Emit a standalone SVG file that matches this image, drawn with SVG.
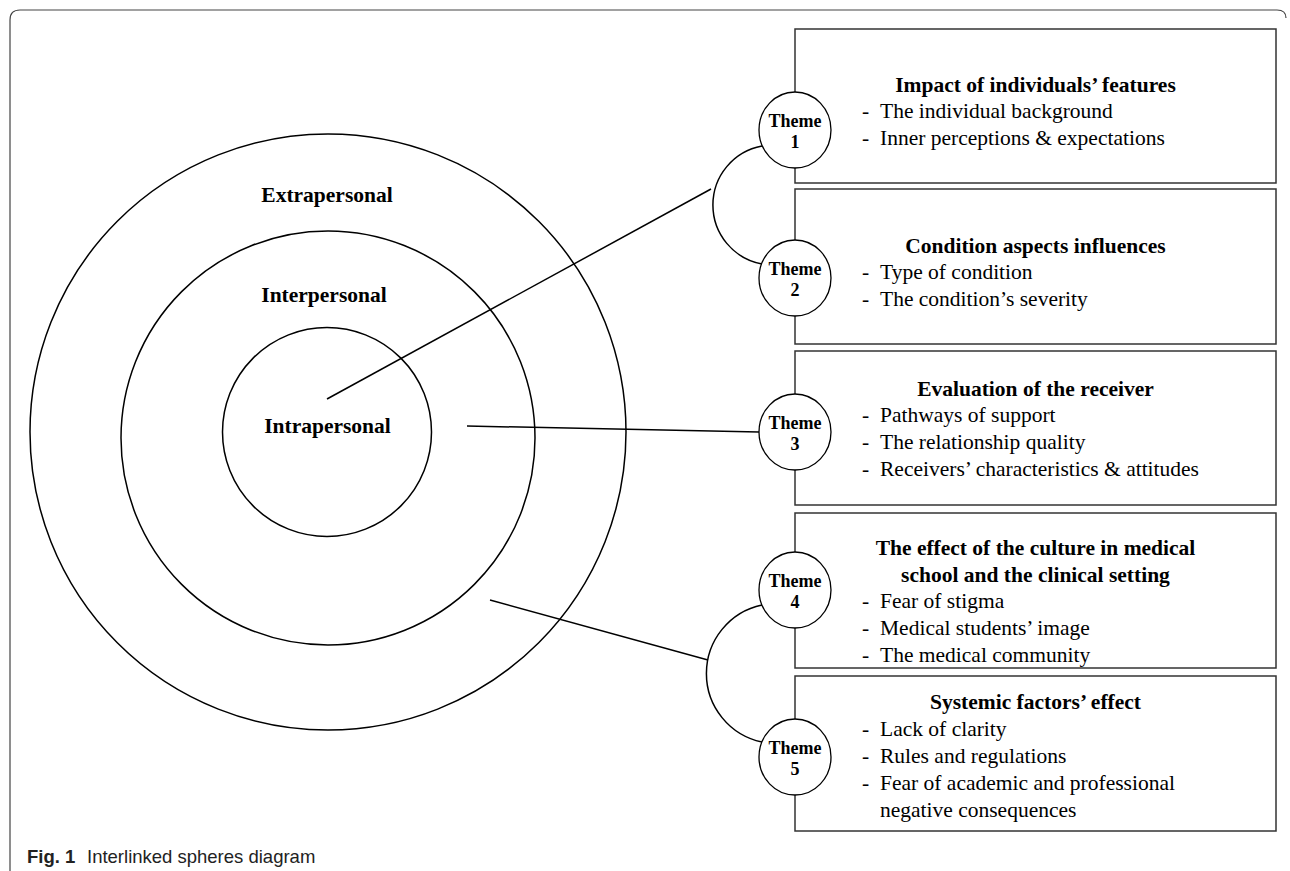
<svg xmlns="http://www.w3.org/2000/svg" width="1290" height="871" viewBox="0 0 1290 871">
<style>
.frame{fill:none;stroke:#444;stroke-width:1.2}
.ring{fill:none;stroke:#000;stroke-width:1.5}
.box{fill:#fff;stroke:#333;stroke-width:1.5}
.th{fill:#fff;stroke:#000;stroke-width:1.3}
.con{fill:none;stroke:#000;stroke-width:1.5}
.lbl{font-family:"Liberation Serif","Times New Roman",serif;font-weight:bold;font-size:21.5px;text-anchor:middle;fill:#000}
.title{font-family:"Liberation Serif","Times New Roman",serif;font-weight:bold;font-size:21.5px;text-anchor:middle;fill:#000}
.item{font-family:"Liberation Serif","Times New Roman",serif;font-size:21.5px;fill:#000}
.tht{font-family:"Liberation Serif","Times New Roman",serif;font-weight:bold;font-size:18px;text-anchor:middle;fill:#000}
.cap{font-family:"Liberation Sans",Arial,sans-serif;font-size:18.5px;fill:#222}
</style>
<rect width="1290" height="871" fill="#fff"/>
<path class="frame" d="M10 871 L10 20 Q10 10 20 10 L1277 10 Q1286 10 1286 18"/>
<g id="spheres">
<circle class="ring" cx="328" cy="432" r="298"/>
<circle class="ring" cx="328" cy="438" r="207"/>
<circle class="ring" cx="327" cy="432" r="104.5"/>
<text class="lbl" x="327" y="201.5">Extrapersonal</text>
<text class="lbl" x="324" y="301.5">Interpersonal</text>
<text class="lbl" x="327.5" y="432.5">Intrapersonal</text>
</g>
<g id="connectors">
<path class="con" d="M762 146 A60 60 0 0 0 762 264"/>
<path class="con" d="M762 605 A70 70 0 0 0 762 742"/>
<line class="con" x1="327" y1="399" x2="711" y2="189"/>
<line class="con" x1="467" y1="426" x2="759" y2="432"/>
<line class="con" x1="490" y1="600" x2="708" y2="660"/>
</g>
<g id="box1">
<rect class="box" x="795" y="29" width="481" height="154"/>
<text class="title" x="1035.5" y="92">Impact of individuals’ features</text>
<text class="item" x="862" y="118">-</text><text class="item" x="880" y="118">The individual background</text>
<text class="item" x="862" y="145">-</text><text class="item" x="880" y="145">Inner perceptions &amp; expectations</text>
</g>
<g id="box2">
<rect class="box" x="795" y="189" width="481" height="155"/>
<text class="title" x="1035.5" y="253">Condition aspects influences</text>
<text class="item" x="862" y="279">-</text><text class="item" x="880" y="279">Type of condition</text>
<text class="item" x="862" y="306">-</text><text class="item" x="880" y="306">The condition’s severity</text>
</g>
<g id="box3">
<rect class="box" x="795" y="351" width="481" height="154"/>
<text class="title" x="1035.5" y="396">Evaluation of the receiver</text>
<text class="item" x="862" y="422">-</text><text class="item" x="880" y="422">Pathways of support</text>
<text class="item" x="862" y="449">-</text><text class="item" x="880" y="449">The relationship quality</text>
<text class="item" x="862" y="476">-</text><text class="item" x="880" y="476">Receivers’ characteristics &amp; attitudes</text>
</g>
<g id="box4">
<rect class="box" x="795" y="513" width="481" height="155"/>
<text class="title" x="1035.5" y="555">The effect of the culture in medical</text>
<text class="title" x="1035.5" y="582">school and the clinical setting</text>
<text class="item" x="862" y="608">-</text><text class="item" x="880" y="608">Fear of stigma</text>
<text class="item" x="862" y="635">-</text><text class="item" x="880" y="635">Medical students’ image</text>
<text class="item" x="862" y="662">-</text><text class="item" x="880" y="662">The medical community</text>
</g>
<g id="box5">
<rect class="box" x="795" y="676" width="481" height="155"/>
<text class="title" x="1035.5" y="709">Systemic factors’ effect</text>
<text class="item" x="862" y="736">-</text><text class="item" x="880" y="736">Lack of clarity</text>
<text class="item" x="862" y="763">-</text><text class="item" x="880" y="763">Rules and regulations</text>
<text class="item" x="862" y="790">-</text><text class="item" x="880" y="790">Fear of academic and professional</text>
<text class="item" x="880" y="817">negative consequences</text>
</g>
<g id="theme1"><ellipse class="th" cx="795" cy="130" rx="36" ry="38"/><text class="tht" x="795" y="127">Theme</text><text class="tht" x="795" y="148">1</text></g>
<g id="theme2"><ellipse class="th" cx="795" cy="278" rx="36" ry="38"/><text class="tht" x="795" y="275">Theme</text><text class="tht" x="795" y="296">2</text></g>
<g id="theme3"><ellipse class="th" cx="795" cy="432" rx="36" ry="38"/><text class="tht" x="795" y="429">Theme</text><text class="tht" x="795" y="450">3</text></g>
<g id="theme4"><ellipse class="th" cx="795" cy="590" rx="36" ry="38"/><text class="tht" x="795" y="587">Theme</text><text class="tht" x="795" y="608">4</text></g>
<g id="theme5"><ellipse class="th" cx="795" cy="757" rx="36" ry="38"/><text class="tht" x="795" y="754">Theme</text><text class="tht" x="795" y="775">5</text></g>
<g id="caption">
<text class="cap" x="27" y="863" font-weight="bold">Fig. 1</text>
<text class="cap" x="87" y="863">Interlinked spheres diagram</text>
</g>
</svg>
